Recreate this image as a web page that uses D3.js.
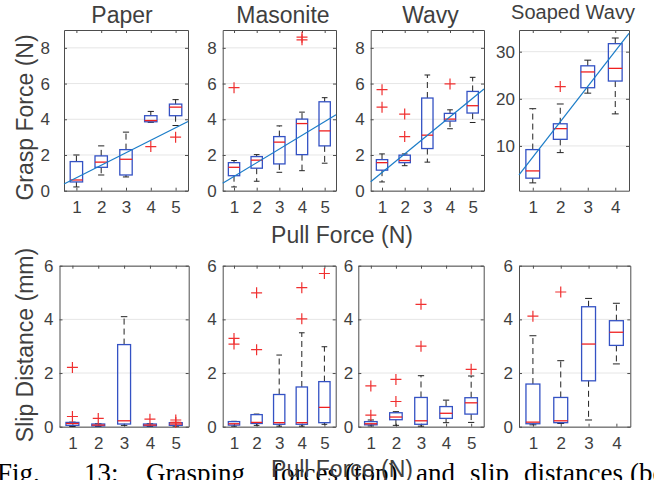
<!DOCTYPE html>
<html>
<head>
<meta charset="utf-8">
<script src="https://cdn.jsdelivr.net/npm/d3@7"></script>
<style>
body { margin: 0; background: #fff; }
svg { display: block; }
.axis .domain { stroke: #4d4d4d; }
.axis .tick line { stroke: #4d4d4d; }
.axis text { fill: #3f3f3f; font-family: "Liberation Sans", Arial, Helvetica, sans-serif; font-size: 17px; }
</style>
</head>
<body>
<svg id="fig" width="654" height="480"></svg>
<script>
// box stats per pull force: [lower whisker, q1, median, q3, upper whisker]
var panelTitles = ["Paper", "Masonite", "Wavy", "Soaped Wavy"];

var graspPaper = [[0.21,0.49,0.6,1.63,2.0],[0.88,1.31,1.6,1.95,2.51],[0.77,0.88,1.76,2.3,3.28],[3.83,3.86,3.93,4.2,4.44],[3.65,4.2,4.68,4.85,5.1]];
var graspPaperOut = [[],[],[],[2.47],[3.0]];
var graspMasonite = [[0.21,0.84,1.31,1.57,1.69],[0.53,1.26,1.71,1.91,2.02],[1.03,1.5,2.72,3.03,3.63],[1.12,2.02,3.76,4.01,4.4],[1.54,2.51,3.35,4.98,5.21]];
var graspMasoniteOut = [[5.77],[],[],[8.45,8.6],[]];
var graspWavy = [[0.49,1.15,1.57,1.74,2.06],[1.4,1.57,1.69,1.99,2.06],[1.6,2.36,3.11,5.19,6.48],[3.47,3.9,4.01,4.33,4.53],[3.82,4.35,4.76,5.56,6.35]];
var graspWavyOut = [[4.68,5.66],[3.03,4.29],[],[5.98],[]];
var graspSoaped = [[2.16,3.16,4.7,9.22,17.9],[8.58,11.4,13.67,14.7,18.9],[21.2,22.35,25.7,27.0,28.2],[16.8,23.77,26.46,31.7,32.9]];
var graspSoapedOut = [[],[22.6],[],[]];

var slipPaper = [[0.01,0.05,0.12,0.16,0.17],[0.01,0.03,0.06,0.1,0.11],[0.05,0.1,0.22,3.06,4.1],[0.01,0.03,0.06,0.1,0.11],[0.02,0.05,0.1,0.15,0.16]];
var slipPaperOut = [[0.38,2.21],[0.31],[],[0.28],[0.16,0.25]];
var slipMasonite = [[0.02,0.06,0.11,0.19,0.2],[0.05,0.12,0.16,0.45,0.47],[0.02,0.09,0.15,1.2,2.67],[0.02,0.09,0.15,1.48,3.5],[0.09,0.15,0.72,1.68,2.98]];
var slipMasoniteOut = [[3.08,3.29],[2.87,4.99],[],[4.02,5.18],[5.71]];
var slipWavy = [[0.03,0.07,0.11,0.19,0.25],[0.05,0.26,0.36,0.52,0.56],[0.02,0.09,0.22,1.09,1.9],[0.15,0.31,0.5,0.75,0.99],[0.16,0.47,0.89,1.08,1.89]];
var slipWavyOut = [[0.43,1.52],[0.94,1.76],[3.0,4.56],[],[2.14]];
var slipSoaped = [[0.07,0.11,0.17,1.59,3.39],[0.12,0.15,0.22,1.09,2.46],[0.25,1.71,3.08,4.47,4.78],[2.34,3.03,3.52,3.95,4.6]];
var slipSoapedOut = [[4.12],[5.02],[],[]];

// least squares lines on the grasp plots
var fitSlope = [0.70, 0.768, 1.04, 7.51];
var fitIntercept = [0.03, 0.03, -0.02, 0.1];

var graspTicks = [0, 2, 4, 6, 8];
var soapedTicks = [10, 20, 30];
var slipTicks = [0, 2, 4, 6];

var captionWords = ["Fig.", "13:", "Grasping", "forces", "(top)", "and", "slip", "distances", "(bottom)"];

var font = '"Liberation Sans", Arial, Helvetica, sans-serif';
var svg = d3.select("#fig");

// axes rectangles [x0, x1, y0, y1]
var topRects = [[64,188,30,190.7],[222.7,336,30,190.7],[370.7,484,30,190.7],[519,629,30,190.7]];
var botRects = [[59.5,188.7,265.7,426.7],[222.7,335.7,265.7,426.7],[358.3,483.7,265.7,426.7],[519,630.3,265.7,426.7]];
var titleX = [122, 283, 430.5, 573];
var ygap = [[14,6,6,4],[6,6,5,6]];

function panel(rect, boxes, outs, ydom, yticks, gap, fitIdx) {
    var n = boxes.length;
    var x = d3.scaleLinear().domain([0.5, n + 0.5]).range([rect[0], rect[1]]);
    var y = d3.scaleLinear().domain(ydom).range([rect[3], rect[2]]);
    var g = svg.append("g");

    // grid
    g.selectAll("line.grid").data(yticks).enter().append("line")
        .attr("x1", rect[0]).attr("x2", rect[1])
        .attr("y1", function(d){ return y(d); }).attr("y2", function(d){ return y(d); })
        .attr("stroke", "#e6e6e6").attr("stroke-width", 1);

    var xt = d3.range(1, n + 1);
    g.append("g").attr("class", "axis").attr("transform", "translate(0," + rect[3] + ")")
        .call(d3.axisBottom(x).tickValues(xt).tickFormat(d3.format("d")).tickSizeInner(-3).tickSizeOuter(0).tickPadding(10.5));
    g.append("g").attr("class", "axis").attr("transform", "translate(0," + rect[2] + ")")
        .call(d3.axisTop(x).tickValues(xt).tickFormat("").tickSizeInner(-3).tickSizeOuter(0));
    g.append("g").attr("class", "axis").attr("transform", "translate(" + rect[0] + ",0)")
        .call(d3.axisLeft(y).tickValues(yticks).tickFormat(d3.format("d")).tickSizeInner(-3).tickSizeOuter(0).tickPadding(gap));
    g.append("g").attr("class", "axis").attr("transform", "translate(" + rect[1] + ",0)")
        .call(d3.axisRight(y).tickValues(yticks).tickFormat("").tickSizeInner(-3).tickSizeOuter(0));

    var bw = (x(1) - x(0.5)) / 2;   // half box width in px (box = 0.5 units)
    var cw = bw / 2;

    var b = g.selectAll("g.box").data(boxes).enter().append("g");
    // whiskers
    b.append("line").attr("x1", function(d,i){ return x(i+1); }).attr("x2", function(d,i){ return x(i+1); })
        .attr("y1", function(d){ return y(d[3]); }).attr("y2", function(d){ return y(d[4]); })
        .attr("stroke", "#222").attr("stroke-dasharray", "6,4");
    b.append("line").attr("x1", function(d,i){ return x(i+1); }).attr("x2", function(d,i){ return x(i+1); })
        .attr("y1", function(d){ return y(d[1]); }).attr("y2", function(d){ return y(d[0]); })
        .attr("stroke", "#222").attr("stroke-dasharray", "6,4");
    [0, 4].forEach(function(k) {
        b.append("line").attr("x1", function(d,i){ return x(i+1) - cw; }).attr("x2", function(d,i){ return x(i+1) + cw; })
            .attr("y1", function(d){ return y(d[k]); }).attr("y2", function(d){ return y(d[k]); })
            .attr("stroke", "#222");
    });
    b.append("rect").attr("x", function(d,i){ return x(i+1) - bw; }).attr("width", 2 * bw)
        .attr("y", function(d){ return y(d[3]); }).attr("height", function(d){ return Math.max(0.5, y(d[1]) - y(d[3])); })
        .attr("fill", "none").attr("stroke", "#3452c4").attr("stroke-width", 1.3);
    b.append("line").attr("x1", function(d,i){ return x(i+1) - bw; }).attr("x2", function(d,i){ return x(i+1) + bw; })
        .attr("y1", function(d){ return y(d[2]); }).attr("y2", function(d){ return y(d[2]); })
        .attr("stroke", "#f02020").attr("stroke-width", 1.3);

    // outliers
    var pts = [];
    outs.forEach(function(o, i){ o.forEach(function(v){ pts.push([i + 1, v]); }); });
    var s = 5.5;
    var p = g.selectAll("g.out").data(pts).enter().append("g")
        .attr("transform", function(d){ return "translate(" + x(d[0]) + "," + y(d[1]) + ")"; });
    p.append("path").attr("d", "M" + (-s) + ",0H" + s + "M0," + (-s) + "V" + s)
        .attr("stroke", "#f03030").attr("stroke-width", 1.2).attr("fill", "none");

    if (fitIdx != null) {
        var f = function(v){ return fitIntercept[fitIdx] + fitSlope[fitIdx] * v; };
        g.append("line").attr("x1", x(0.5)).attr("x2", x(n + 0.5))
            .attr("y1", y(f(0.5))).attr("y2", y(f(n + 0.5)))
            .attr("stroke", "#1a7cc8").attr("stroke-width", 1.2);
    }
}

var graspSets = [[graspPaper, graspPaperOut], [graspMasonite, graspMasoniteOut], [graspWavy, graspWavyOut], [graspSoaped, graspSoapedOut]];
var slipSets = [[slipPaper, slipPaperOut], [slipMasonite, slipMasoniteOut], [slipWavy, slipWavyOut], [slipSoaped, slipSoapedOut]];

graspSets.forEach(function(s, i) {
    var soaped = i === 3;
    panel(topRects[i], s[0], s[1], soaped ? [0.5, 34.6] : [0, 9], soaped ? soapedTicks : graspTicks, ygap[0][i], i);
    svg.append("text").attr("x", titleX[i]).attr("y", soaped ? 19.3 : 22.7)
        .attr("text-anchor", "middle").attr("font-family", font)
        .attr("font-size", soaped ? 20 : 23).attr("fill", "#3f3f3f").text(panelTitles[i]);
});
slipSets.forEach(function(s, i) {
    panel(botRects[i], s[0], s[1], [0, 6], slipTicks, ygap[1][i], null);
});

// axis labels
function label(txt, x, y, rot) {
    svg.append("text").attr("transform", "translate(" + x + "," + y + ")" + (rot ? " rotate(-90)" : ""))
        .attr("text-anchor", "middle").attr("font-family", font).attr("font-size", 23)
        .attr("fill", "#3f3f3f").text(txt);
}
label("Grasp Force (N)", 33, 117.5, true);
label("Slip Distance (mm)", 33, 345, true);

// caption (cut by the page edge)
var capX = [-3, 84, 146, 272, 345, 416, 470, 524, 630];
svg.append("g").selectAll("text").data(captionWords).enter().append("text")
    .attr("x", function(d, i){ return capX[i]; }).attr("y", 482)
    .attr("font-family", '"Liberation Serif", "Times New Roman", serif').attr("font-size", 27)
    .attr("fill", "#000").text(function(d){ return d; });

label("Pull Force (N)", 342, 243.3, false);
label("Pull Force (N)", 342, 477, false);
</script>
</body>
</html>
